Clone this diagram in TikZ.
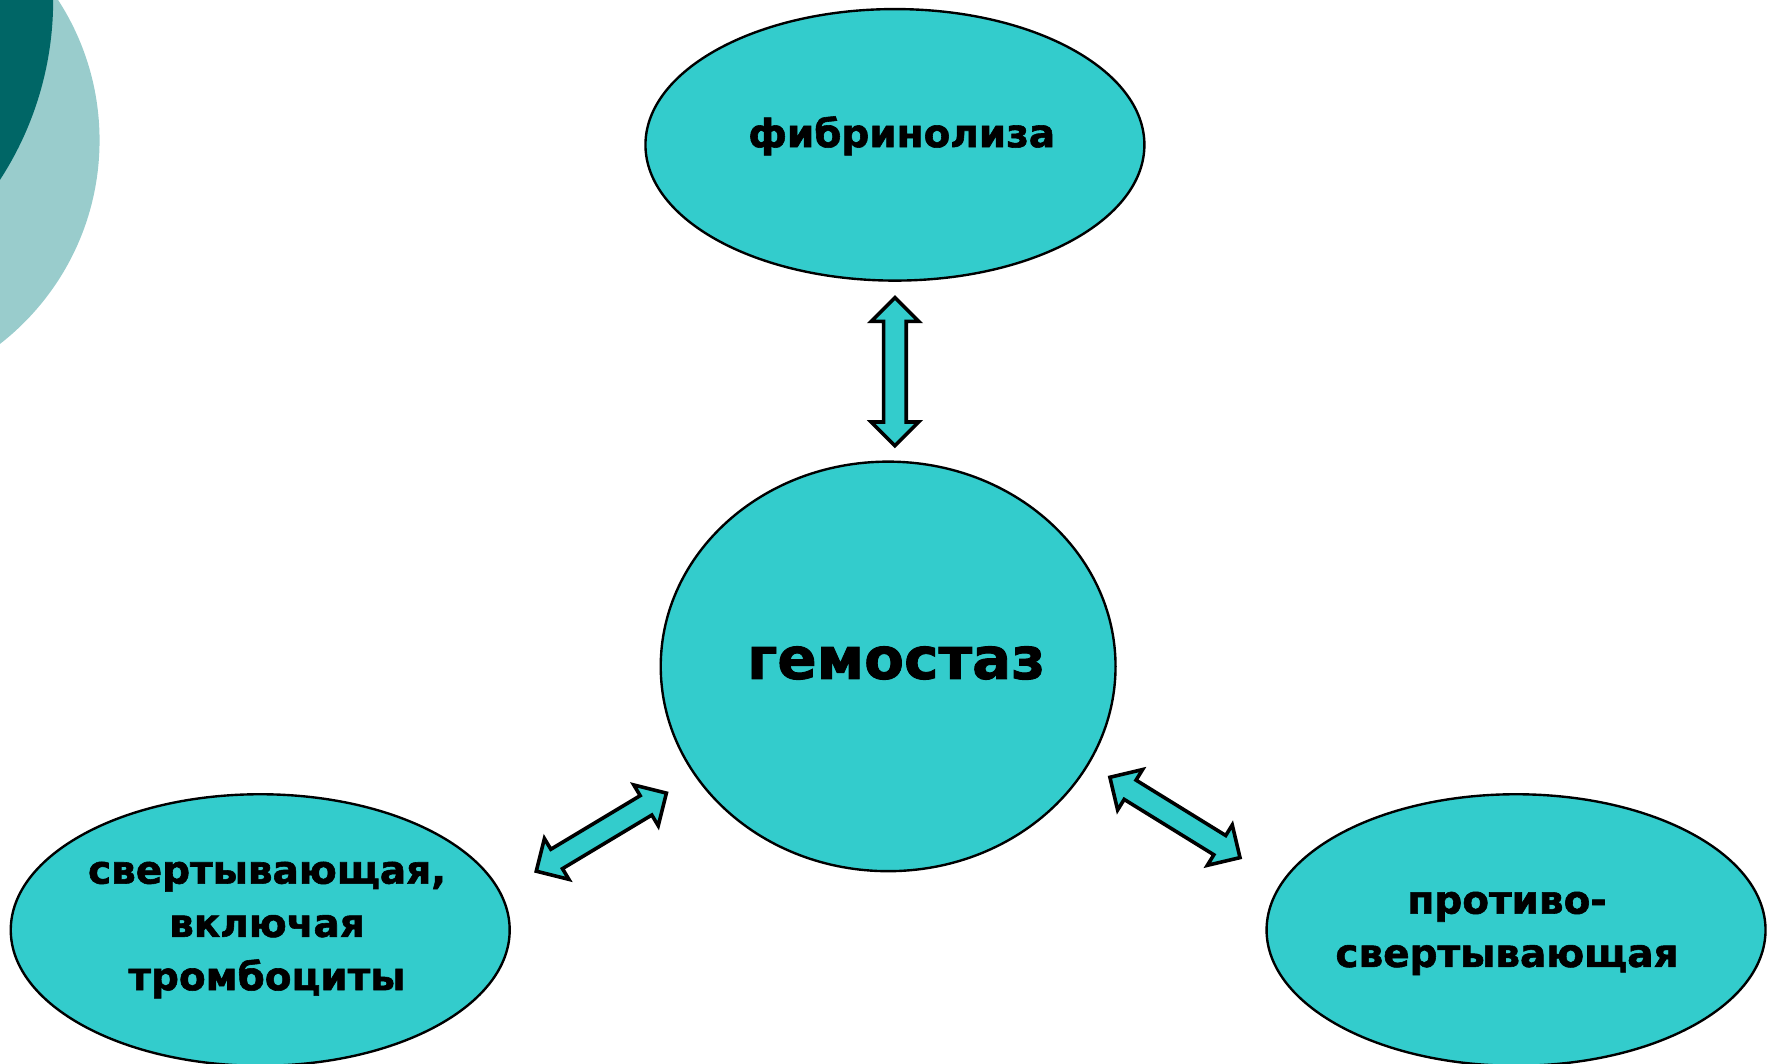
\documentclass[tikz,border=0pt]{standalone}
\usepackage{fontspec}
\setmainfont{DejaVu Sans}[BoldFeatures={FakeBold=1.5}]
\usetikzlibrary{shapes.geometric,calc}
\definecolor{tealfill}{RGB}{51,204,204}
\definecolor{palecircle}{RGB}{153,204,204}
\definecolor{darkcircle}{RGB}{0,102,102}
% block arrow with a head at both ends, from #1 to #2
\newcommand{\dblarrow}[2]{%
    \coordinate (h1) at ($(#1)!0.21cm!(#2)$);
    \coordinate (h2) at ($(#2)!0.21cm!(#1)$);
    \draw [arrowbox] (#1) -- ($(h1)!0.21cm!90:(#2)$) -- ($(h1)!0.10cm!90:(#2)$)
        -- ($(h2)!0.10cm!-90:(#1)$) -- ($(h2)!0.21cm!-90:(#1)$) -- (#2)
        -- ($(h2)!0.21cm!90:(#1)$) -- ($(h2)!0.10cm!90:(#1)$)
        -- ($(h1)!0.10cm!-90:(#2)$) -- ($(h1)!0.21cm!-90:(#2)$) -- cycle;
}
\begin{document}
\begin{tikzpicture}[
    blob/.style={ellipse, draw=black, line width=0.6pt, fill=tealfill, inner sep=0pt,
        minimum width=4.41cm, minimum height=2.40cm},
    words/.style={align=center, font=\bfseries\fontsize{9.8}{13.4}\selectfont},
    arrowbox/.style={draw=black, line width=0.9pt, fill=tealfill, line join=miter}
]
    \useasboundingbox (0,0) rectangle (15.68,-9.40);
    % corner decoration
    \begin{scope}
    \clip (0,0) rectangle (15.68,-9.40);
    \fill [palecircle] (-1.40,-1.24) circle (2.28);
    \fill [darkcircle] (-2.45,0) circle (2.92);
    \end{scope}
    % the four ellipses
    \node [blob, label={[words, xshift=0.06cm, yshift=0.08cm]center:фибринолиза}] (fib) at (7.91,-1.28) {};
    \node [blob, minimum width=4.02cm, minimum height=3.62cm,
        label={[words, font=\bfseries\fontsize{14.6}{17}\selectfont, xshift=0.07cm, yshift=0.03cm]center:гемостаз}] (hub) at (7.85,-5.89) {};
    \node [blob, label={[words, xshift=0.06cm]center:свертывающая,\\включая\\тромбоциты}] (coag) at (2.30,-8.22) {};
    \node [blob, label={[words, xshift=-0.08cm, yshift=-0.03cm]center:противо-\\свертывающая}] (anti) at (13.40,-8.22) {};
    % arrow ends
    \coordinate (fa) at ($(fib.south)+(0,-0.14)$);
    \coordinate (fb) at ($(fa |- hub.north)+(0,0.13)$);
    \coordinate (la) at (4.74,-7.70);
    \coordinate (lb) at (5.89,-7.01);
    \coordinate (ra) at (9.81,-6.87);
    \coordinate (rb) at (10.96,-7.58);
    \dblarrow{fa}{fb}
    \dblarrow{la}{lb}
    \dblarrow{ra}{rb}
\end{tikzpicture}
\end{document}
